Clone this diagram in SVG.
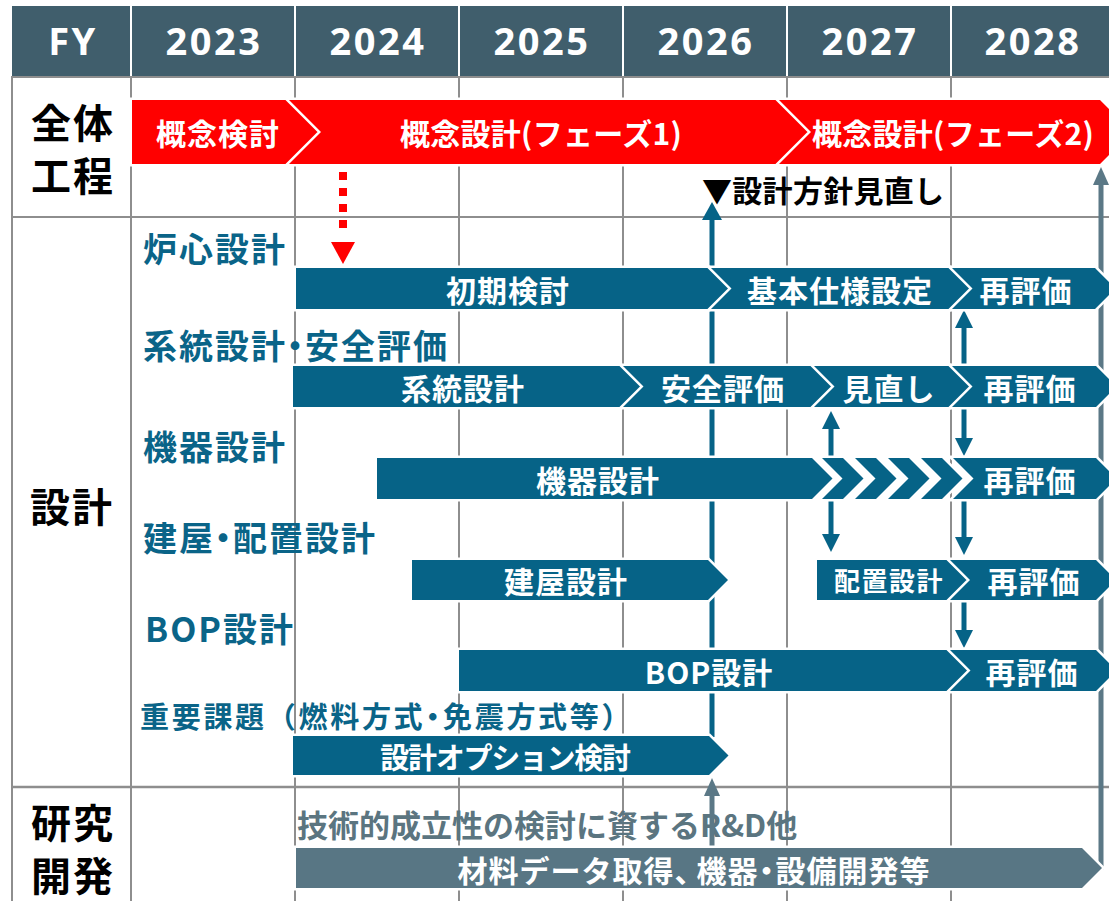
<svg xmlns="http://www.w3.org/2000/svg" width="1109" height="901" viewBox="0 0 1109 901">
<defs>
<style>
.grid{stroke:#8e8e8e;stroke-width:2;fill:none}
.hdsep{stroke:#ffffff;stroke-width:2}
.hd{font-family:"Noto Sans","Liberation Sans",sans-serif;font-weight:700;font-size:38px;fill:#ffffff;letter-spacing:2.5px;text-anchor:middle}
.jp{font-family:"Noto Sans CJK JP","Noto Sans",sans-serif;font-weight:700;dominant-baseline:central}
.sec{font-size:40px;fill:#000000;letter-spacing:2px;text-anchor:middle}
.lbl{font-size:34px;fill:#0a6488;letter-spacing:2px}
.note{font-size:30px;fill:#000000;letter-spacing:0.3px}
.glbl{font-size:31px;fill:#5b7580}
.bt{font-size:30px;fill:#ffffff;letter-spacing:1px;text-anchor:middle}
.red{fill:#ff0000;stroke:#ffffff;stroke-width:5;paint-order:stroke}
.blue{fill:#066387;stroke:#ffffff;stroke-width:5;paint-order:stroke}
.gray{fill:#587684;stroke:#ffffff;stroke-width:5;paint-order:stroke}
.cb{stroke:#066387;stroke-width:5;fill:none}
.cg{stroke:#5b7886;stroke-width:5;fill:none}
</style>
<marker id="hb" viewBox="0 0 18 18" refX="0" refY="9" markerWidth="18" markerHeight="18" orient="auto" markerUnits="userSpaceOnUse"><path d="M0,0 L18,9 L0,18 z" fill="#066387"/></marker>
<marker id="hbl" viewBox="0 0 18 20" refX="0" refY="10" markerWidth="18" markerHeight="20" orient="auto" markerUnits="userSpaceOnUse"><path d="M0,0 L18,10 L0,20 z" fill="#066387"/></marker>
<marker id="hg" viewBox="0 0 18 16" refX="0" refY="8" markerWidth="18" markerHeight="16" orient="auto" markerUnits="userSpaceOnUse"><path d="M0,0 L18,8 L0,16 z" fill="#5b7886"/></marker>
<marker id="hr" viewBox="0 0 22 24" refX="0" refY="12" markerWidth="22" markerHeight="24" orient="auto" markerUnits="userSpaceOnUse"><path d="M0,0 L22,12 L0,24 z" fill="#ff0000"/></marker>
</defs>
<rect width="1109" height="901" fill="#ffffff"/>

<g id="header">
<rect x="12" y="6" width="1097" height="70" fill="#405e6c"/>
<line class="hdsep" x1="131" y1="6" x2="131" y2="76"/>
<line class="hdsep" x1="295" y1="6" x2="295" y2="76"/>
<line class="hdsep" x1="459" y1="6" x2="459" y2="76"/>
<line class="hdsep" x1="623" y1="6" x2="623" y2="76"/>
<line class="hdsep" x1="787" y1="6" x2="787" y2="76"/>
<line class="hdsep" x1="951" y1="6" x2="951" y2="76"/>
<text class="hd" x="73" y="55">FY</text>
<text class="hd" x="214" y="55">2023</text>
<text class="hd" x="378" y="55">2024</text>
<text class="hd" x="542" y="55">2025</text>
<text class="hd" x="706" y="55">2026</text>
<text class="hd" x="870" y="55">2027</text>
<text class="hd" x="1033" y="55">2028</text>
</g>

<g id="grid">
<line class="grid" x1="12" y1="77" x2="1109" y2="77"/>
<line class="grid" x1="12" y1="217" x2="1109" y2="217"/>
<line class="grid" x1="12" y1="787" x2="1109" y2="787" style="stroke-width:2.5"/>
<line class="grid" x1="12" y1="76" x2="12" y2="901"/>
<line class="grid" x1="131" y1="76" x2="131" y2="901"/>
<line class="grid" x1="295" y1="77" x2="295" y2="901"/>
<line class="grid" x1="459" y1="77" x2="459" y2="901"/>
<line class="grid" x1="623" y1="77" x2="623" y2="901"/>
<line class="grid" x1="787" y1="77" x2="787" y2="901"/>
<line class="grid" x1="951" y1="77" x2="951" y2="901"/>
</g>

<g id="section-labels">
<text class="jp sec" x="73" y="121">全体</text>
<text class="jp sec" x="73" y="174">工程</text>
<text class="jp sec" x="72" y="505">設計</text>
<text class="jp sec" x="73" y="821">研究</text>
<text class="jp sec" x="73" y="874">開発</text>
</g>

<g id="row-labels">
<text class="jp lbl" x="143" y="247">炉心設計</text>
<text class="jp lbl" x="143" y="344">系統設<tspan style="letter-spacing:-7px">計・</tspan>安全評価</text>
<text class="jp lbl" x="143" y="445">機器設計</text>
<text class="jp lbl" x="143" y="536">建<tspan style="letter-spacing:-7px">屋・</tspan>配置設計</text>
<text class="jp lbl" x="145" y="627">BOP設計</text>
<text class="jp lbl" x="140" y="715" style="font-size:29px;letter-spacing:2.7px">重要課題（燃料方<tspan style="letter-spacing:-4.3px">式・</tspan>免震方式等）</text>
<text class="jp glbl" x="297" y="823">技術的成立性の検討に資するR&amp;D他</text>
<text class="jp note" x="702" y="189">▼設計方針見直し</text>
</g>

<g id="connectors">
<line x1="343" y1="172" x2="343" y2="242" stroke="#ff0000" stroke-width="8" stroke-dasharray="8 8 8 8 8 8 8 14" marker-end="url(#hr)"/>
<line class="cb" x1="712" y1="737" x2="712" y2="220" marker-end="url(#hbl)"/>
<line class="cb" x1="964" y1="366" x2="964" y2="328" marker-end="url(#hb)"/>
<line class="cb" x1="964" y1="408" x2="964" y2="438" marker-end="url(#hb)"/>
<line class="cb" x1="831" y1="458" x2="831" y2="429" marker-end="url(#hb)"/>
<line class="cb" x1="831" y1="500" x2="831" y2="534" marker-end="url(#hb)"/>
<line class="cb" x1="964" y1="500" x2="964" y2="537" marker-end="url(#hb)"/>
<line class="cb" x1="964" y1="601" x2="964" y2="630" marker-end="url(#hb)"/>
<line class="cg" x1="712" y1="848" x2="712" y2="796" marker-end="url(#hg)"/>
<line class="cg" x1="1101" y1="870" x2="1101" y2="185" marker-end="url(#hg)"/>
</g>

<g id="node-overall">
<polygon class="red" points="132,100 287,100 319,132 287,164 132,164"/>
<polygon class="red" points="289,100 777,100 809,132 777,164 289,164 321,132"/>
<polygon class="red" points="779,100 1100,100 1132,132 1100,164 779,164 811,132"/>
<text class="jp bt" x="218" y="132">概念検討</text>
<text class="jp bt" x="541" y="132" style="letter-spacing:0.3px">概念設計(フェーズ1)</text>
<text class="jp bt" x="953" y="132" style="letter-spacing:0.3px">概念設計(フェーズ2)</text>
</g>

<g id="node-core">
<polygon class="blue" points="296,268 709,268 729.5,288.5 709,309 296,309"/>
<polygon class="blue" points="711,268 950,268 970.5,288.5 950,309 711,309 731.5,288.5"/>
<polygon class="blue" points="952,268 1095,268 1115.5,288.5 1095,309 952,309 972.5,288.5"/>
<text class="jp bt" x="508" y="288.5">初期検討</text>
<text class="jp bt" x="840" y="288.5">基本仕様設定</text>
<text class="jp bt" x="1026" y="288.5">再評価</text>
</g>

<g id="node-system">
<polygon class="blue" points="293,366 621,366 641.5,386.5 621,407 293,407"/>
<polygon class="blue" points="623,366 812,366 832.5,386.5 812,407 623,407 643.5,386.5"/>
<polygon class="blue" points="814,366 950,366 970.5,386.5 950,407 814,407 834.5,386.5"/>
<polygon class="blue" points="952,366 1096,366 1116.5,386.5 1096,407 952,407 972.5,386.5"/>
<text class="jp bt" x="463" y="386.5">系統設計</text>
<text class="jp bt" x="723" y="386.5">安全評価</text>
<text class="jp bt" x="889" y="386.5">見直し</text>
<text class="jp bt" x="1030" y="386.5">再評価</text>
</g>

<g id="node-equipment">
<polygon class="blue" points="377,458 812,458 832.5,478.5 812,499 377,499"/>
<polygon class="blue" points="822,458 843,458 863.5,478.5 843,499 822,499 842.5,478.5"/>
<polygon class="blue" points="855,458 876,458 896.5,478.5 876,499 855,499 875.5,478.5"/>
<polygon class="blue" points="888,458 909,458 929.5,478.5 909,499 888,499 908.5,478.5"/>
<polygon class="blue" points="921,458 942,458 962.5,478.5 942,499 921,499 941.5,478.5"/>
<polygon class="blue" points="953,458 1096,458 1116.5,478.5 1096,499 953,499 973.5,478.5"/>
<text class="jp bt" x="598" y="478.5">機器設計</text>
<text class="jp bt" x="1030" y="478.5">再評価</text>
</g>

<g id="node-building">
<polygon class="blue" points="412,560 708,560 728,580 708,600 412,600"/>
<polygon class="blue" points="817,560 948,560 968,580 948,600 817,600"/>
<polygon class="blue" points="950,560 1096,560 1116,580 1096,600 950,600 970,580"/>
<text class="jp bt" x="566" y="580">建屋設計</text>
<text class="jp bt" x="889" y="579" style="font-size:26px;letter-spacing:1.5px">配置設計</text>
<text class="jp bt" x="1034" y="580">再評価</text>
</g>

<g id="node-bop">
<polygon class="blue" points="459,650 948,650 968.5,670.5 948,691 459,691"/>
<polygon class="blue" points="950,650 1096,650 1116.5,670.5 1096,691 950,691 970.5,670.5"/>
<text class="jp bt" x="709" y="670.5">BOP設計</text>
<text class="jp bt" x="1032" y="670.5">再評価</text>
</g>

<g id="node-option">
<polygon class="blue" points="293,736 709,736 728.5,755.5 709,775 293,775"/>
<text class="jp bt" x="505" y="756" style="font-size:29px;letter-spacing:-1.3px">設計オプション検討</text>
</g>

<g id="node-rd">
<polygon class="gray" points="296,848 1082,848 1102,868 1082,888 296,888"/>
<text class="jp bt" x="694" y="869" style="letter-spacing:1px">材料データ取得<tspan style="letter-spacing:-8px">、</tspan>機<tspan style="letter-spacing:-6px">器・</tspan>設備開発等</text>
</g>
</svg>
